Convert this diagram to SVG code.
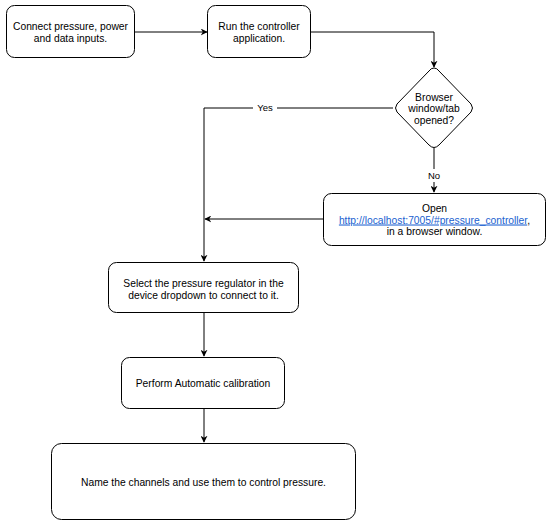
<svg xmlns="http://www.w3.org/2000/svg" width="550" height="524" viewBox="0 0 550 524">
<defs>
<style>
.box{fill:#fff;stroke:#000;stroke-width:1}
.t{font-family:"Liberation Sans",Arial,sans-serif;font-size:10.3px;fill:#000;text-anchor:middle}
.edge{fill:none;stroke:#000;stroke-width:1}
.lbl{font-family:"Liberation Sans",Arial,sans-serif;font-size:9.5px;fill:#000;text-anchor:middle}
.link{fill:#1a5fd0;text-decoration:underline}
</style>
<marker id="ah" viewBox="0 0 10 10" refX="9" refY="5" markerWidth="7" markerHeight="7" orient="auto-start-reverse" markerUnits="userSpaceOnUse">
<path d="M0,0 L10,5 L0,10 L3,5 z" fill="#000"/>
</marker>
</defs>
<rect width="550" height="524" fill="#fff"/>
<g id="connectors">
<path class="edge" d="M135,32 H207" marker-end="url(#ah)"/>
<path class="edge" d="M310,32 H434 V67" marker-end="url(#ah)"/>
<path class="edge" d="M393,108 H204 V261" marker-end="url(#ah)"/>
<path class="edge" d="M434,148 V192" marker-end="url(#ah)"/>
<path class="edge" d="M323,219 H205" marker-end="url(#ah)"/>
<path class="edge" d="M204,312 V356" marker-end="url(#ah)"/>
<path class="edge" d="M204,408 V442" marker-end="url(#ah)"/>
<rect x="253" y="101" width="24" height="13" fill="#fff"/>
<text class="lbl" x="265" y="111">Yes</text>
<rect x="425" y="169" width="18" height="13" fill="#fff"/>
<text class="lbl" x="434" y="179">No</text>
</g>
<g id="n1">
<rect class="box" x="6.5" y="5.5" width="128" height="52" rx="8"/>
<text class="t" x="70.5" y="30">Connect pressure, power</text>
<text class="t" x="70.5" y="41.5">and data inputs.</text>
</g>
<g id="n2">
<rect class="box" x="207.5" y="5.5" width="103" height="52" rx="8"/>
<text class="t" x="259" y="30">Run the controller</text>
<text class="t" x="259" y="41.5">application.</text>
</g>
<g id="n3">
<path class="box" d="M434,68 Q437,68 439,71 L471,104 Q474,108 471,112 L439,145 Q434,150 429,145 L397,112 Q394,108 397,104 L429,71 Q431,68 434,68 Z"/>
<text class="t" x="434" y="100.5">Browser</text>
<text class="t" x="434" y="112">window/tab</text>
<text class="t" x="434" y="123.5">opened?</text>
</g>
<g id="n4">
<rect class="box" x="323.5" y="193.5" width="222" height="52" rx="8"/>
<text class="t" x="434.5" y="212">Open</text>
<text class="t" x="434.5" y="223.5"><tspan class="link">http://localhost:7005/#pressure_controller</tspan>,</text>
<text class="t" x="434.5" y="235">in a browser window.</text>
</g>
<g id="n5">
<rect class="box" x="108.5" y="262.5" width="190" height="50" rx="8"/>
<text class="t" x="203.5" y="287">Select the pressure regulator in the</text>
<text class="t" x="203.5" y="298.5">device dropdown to connect to it.</text>
</g>
<g id="n6">
<rect class="box" x="121.5" y="357.5" width="163" height="51" rx="8"/>
<text class="t" x="203" y="386.5">Perform Automatic calibration</text>
</g>
<g id="n7">
<rect class="box" x="51.5" y="443.5" width="304" height="76" rx="10"/>
<text class="t" x="203.5" y="485.5">Name the channels and use them to control pressure.</text>
</g>
</svg>
